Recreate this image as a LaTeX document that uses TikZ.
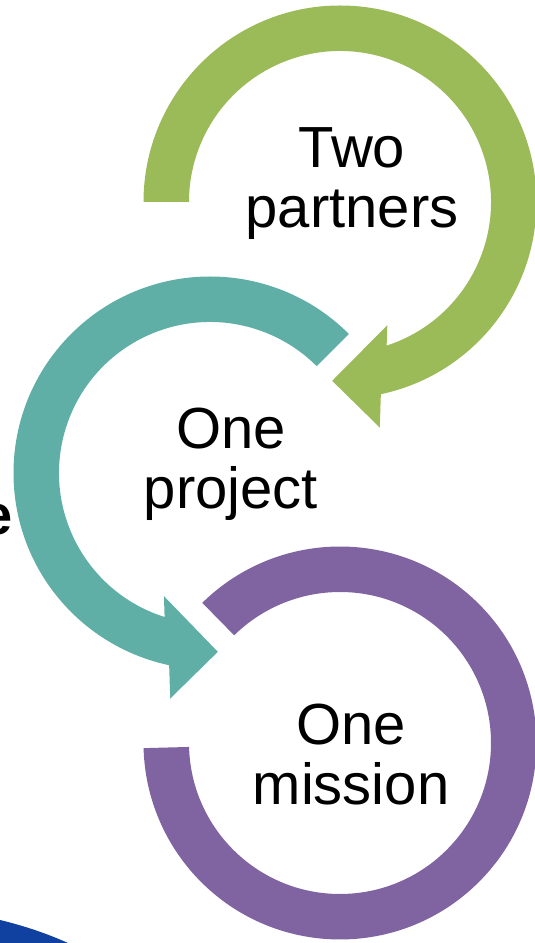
\documentclass[tikz,border=0pt]{standalone}
\usepackage{fontspec}
\setmainfont{Liberation Sans}
\definecolor{verde}{RGB}{155,187,89}
\definecolor{turquesa}{RGB}{95,175,166}
\definecolor{morado}{RGB}{128,100,162}
\definecolor{azul}{RGB}{16,64,160}
\begin{document}
\begin{tikzpicture}[x=1pt,y=1pt,
    etiqueta/.style={anchor=base,inner sep=0pt,text width=260pt,align=center,
        font=\fontsize{58}{60}\selectfont}]
    \useasboundingbox (0,0) rectangle (535,943);
    \def\Rext{196.5}
    \def\Rint{151}

    % Anillo verde con flecha
    \begin{scope}[shift={(340,741)}]
        \fill[verde] (180:\Rext) arc[start angle=180,end angle=-78,radius=\Rext]
            -- (-80:229) -- (-92.5:179) -- (-69:132) -- (-72:\Rint)
            arc[start angle=-72,end angle=180,radius=\Rint] -- cycle;
    \end{scope}

    % Anillo turquesa con flecha
    \begin{scope}[shift={(210,470)}]
        \fill[turquesa] (45:\Rext) arc[start angle=45,end angle=258,radius=\Rext]
            -- (260:229) -- (272.5:179) -- (249.5:131.5) -- (252.5:\Rint)
            arc[start angle=252.5,end angle=45,radius=\Rint] -- cycle;
    \end{scope}

    % Anillo morado
    \begin{scope}[shift={(340,200)}]
        \fill[morado] (134.5:\Rext) arc[start angle=134.5,end angle=-178.5,radius=\Rext]
            -- (-178.5:\Rint) arc[start angle=-178.5,end angle=134.5,radius=\Rint] -- cycle;
    \end{scope}

    % Textos
    \node[etiqueta] (socios) at (352,775) {Two\\partners};
    \node[etiqueta] (proyecto) at (231,494) {One\\project};
    \node[etiqueta] (mision) at (351,198) {One\\mission};

    % Restos en el borde
    \node[anchor=base east,inner sep=0pt,font=\bfseries\fontsize{56}{59}\selectfont]
        (frag) at (13,408) {e};
    \fill[azul] (0,23) .. controls (25,17) and (48,9) .. (68,0) -- (0,0) -- cycle;
\end{tikzpicture}
\end{document}
